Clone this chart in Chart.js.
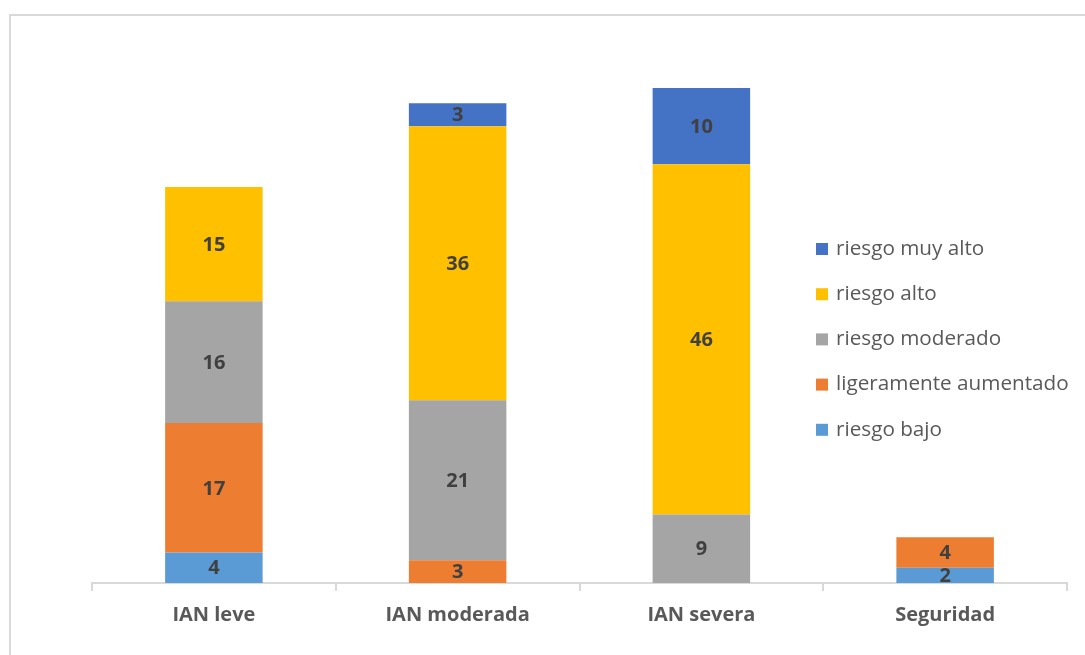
<!DOCTYPE html>
<html>
<head>
<meta charset="utf-8">
<script src="https://cdn.jsdelivr.net/npm/chart.js@4"></script>
<style>
  body { margin: 0; background: #fff; }
  #wrap { position: relative; width: 1085px; height: 655px; overflow: hidden; }
  #frame { position: absolute; left: 9px; top: 14px; width: 1200px; height: 800px; border: 2px solid #d9d9d9; box-sizing: border-box; }
  #myChart { position: absolute; left: 0; top: 0; }
</style>
</head>
<body>
<div id="wrap">
  <div id="frame"></div>
  <canvas id="myChart" width="1085" height="655"></canvas>
</div>
<script>
var categories = ["IAN leve", "IAN moderada", "IAN severa", "Seguridad"];
var riesgoBajo = [4, 0, 0, 2];
var ligeramente = [17, 3, 0, 4];
var riesgoModerado = [16, 21, 9, 0];
var riesgoAlto = [15, 36, 46, 0];
var riesgoMuyAlto = [0, 3, 10, 0];

var seriesNames = ["riesgo bajo", "ligeramente aumentado", "riesgo moderado", "riesgo alto", "riesgo muy alto"];
var seriesValues = [riesgoBajo, ligeramente, riesgoModerado, riesgoAlto, riesgoMuyAlto];
var barColors = ["#5B9BD5", "#ED7D31", "#A5A5A5", "#FFC000", "#4472C4"];

const FONT = "'Open Sans', Lato, sans-serif";

// values written in the middle of each segment
const segmentLabels = {
    id: "segmentLabels",
    afterDatasetsDraw(chart) {
        const ctx = chart.ctx;
        ctx.save();
        ctx.font = "bold 20px " + FONT;
        ctx.fillStyle = "#404040";
        ctx.textAlign = "center";
        ctx.textBaseline = "middle";
        chart.data.datasets.forEach((ds, i) => {
            const meta = chart.getDatasetMeta(i);
            meta.data.forEach((bar, j) => {
                const v = ds.data[j];
                if (!v) return;
                let y = (bar.y + bar.base) / 2;
                ctx.fillText(v, bar.x, y + 1);
            });
        });
        ctx.restore();
    }
};

// legend on the right, last series on top
const sideLegend = {
    id: "sideLegend",
    afterDraw(chart) {
        const ctx = chart.ctx;
        ctx.save();
        ctx.font = "20.7px " + FONT;
        ctx.textBaseline = "middle";
        ctx.textAlign = "left";
        const n = chart.data.datasets.length;
        for (let k = 0; k < n; k++) {
            const ds = chart.data.datasets[n - 1 - k];
            const y = 249 + k * 45.2;
            ctx.fillStyle = ds.backgroundColor;
            ctx.fillRect(816, y - 6, 12, 12);
            ctx.fillStyle = "#595959";
            ctx.fillText(ds.label, 836, y);
        }
        ctx.restore();
    }
};

const datasets = seriesNames.map((name, i) => ({
    label: name,
    data: seriesValues[i],
    backgroundColor: barColors[i],
    categoryPercentage: 1,
    barPercentage: 0.4
}));

new Chart("myChart", {
    type: "bar",
    data: { labels: categories, datasets: datasets },
    plugins: [segmentLabels, sideLegend],
    options: {
        responsive: false,
        animation: false,
        layout: { padding: { left: 92, right: 18, top: 50, bottom: 0 } },
        plugins: {
            legend: { display: false },
            tooltip: { enabled: false }
        },
        scales: {
            x: {
                stacked: true,
                afterFit: (scale) => { scale.height = 72; },
                grid: { drawOnChartArea: false, drawTicks: true, tickLength: 8, color: "#d9d9d9", lineWidth: 2 },
                border: { color: "#d9d9d9", width: 2 },
                ticks: { color: "#595959", font: { family: FONT, size: 20, weight: "bold" }, padding: 12 }
            },
            y: {
                stacked: true,
                display: false,
                min: 0,
                max: 70
            }
        }
    }
});
</script>
</body>
</html>
